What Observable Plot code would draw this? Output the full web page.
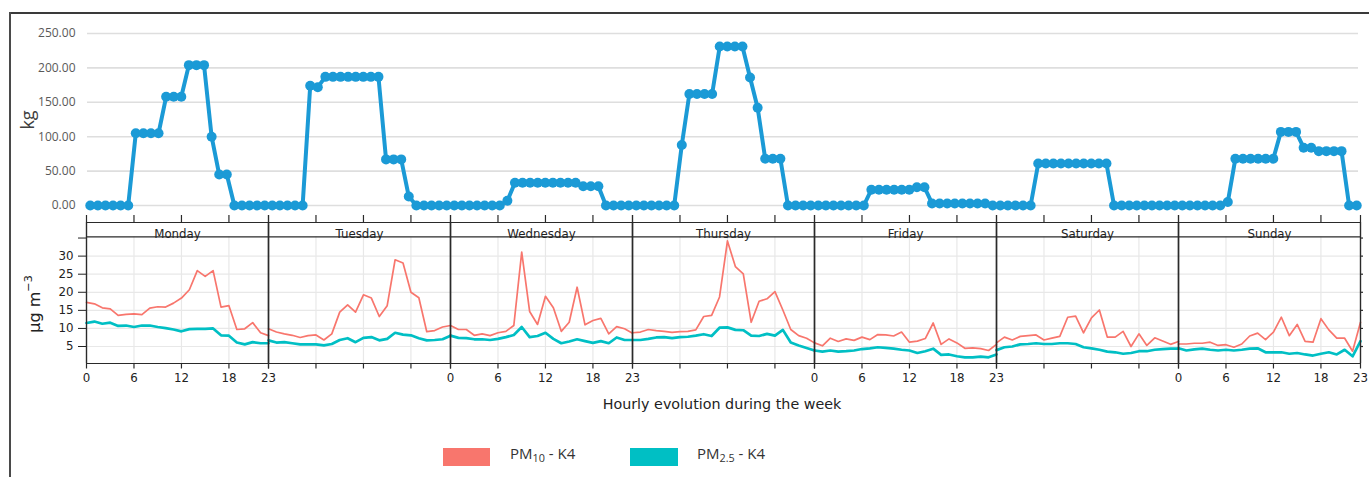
<!DOCTYPE html>
<html>
<head>
<meta charset="utf-8">
<script src="https://cdn.jsdelivr.net/npm/d3@7"></script>
<script src="https://cdn.jsdelivr.net/npm/@observablehq/plot@0.6"></script>
<style>
  body { margin: 0; background: #fff; }
  #wrap { position: relative; width: 1369px; height: 477px; background: #fff; overflow: hidden; }
  .abs { position: absolute; white-space: nowrap; }
  .rot { transform: translate(-50%, -50%) rotate(-90deg); }
  #wrap svg { position: absolute; left: 0; }
</style>
</head>
<body>
<div id="wrap"></div>
<script>
// ---------------- data ----------------
const days = ["Monday", "Tuesday", "Wednesday", "Thursday", "Friday", "Saturday", "Sunday"];
const hourTicks = [0, 6, 12, 18, 23];
const hourGrid = [6, 12, 18];
const labelledDays = ["Monday", "Wednesday", "Friday", "Sunday"];
const kgTicks = [0, 50, 100, 150, 200, 250];
const pmTicks = [5, 10, 15, 20, 25, 30, 35];
const pmTickLabels = ["5", "10", "15", "20", "25", "30", ""];
const pmGrid = [5, 10, 15, 20, 25, 30];

// kg per hour over the week (Mon 0h ... Sun 23h)
const kg = [
  0,0,0,0,0,0,105,105,105,105,158,158,158,204,204,204,100,45,45,0,0,0,0,0,
  0,0,0,0,0,174,172,187,187,187,187,187,187,187,187,67,67,67,13,0,0,0,0,0,
  0,0,0,0,0,0,0,7,33,33,33,33,33,33,33,33,33,28,28,28,0,0,0,0,
  0,0,0,0,0,0,88,162,162,162,162,231,231,231,231,186,142,68,68,68,0,0,0,0,
  0,0,0,0,0,0,0,23,23,23,23,23,23,26.5,26.5,3,3,3,3,3,3,3,3,0,
  0,0,0,0,0,61,61,61,61,61,61,61,61,61,61,0,0,0,0,0,0,0,0,0,
  0,0,0,0,0,0,5,68,68,68,68,68,68,107,107,107,84,84,79,79,79,79,0,0
];

// PM10 - K4 (µg m-3), hourly, Mon..Sun
const pm10 = [
  17.2,16.8,15.7,15.4,13.6,13.9,14.0,13.8,15.6,16.0,15.9,17.0,18.4,20.7,26.0,24.4,26.0,15.9,16.3,9.7,9.9,11.6,8.8,8.0,
  9.9,9.0,8.5,8.1,7.5,8.0,8.2,6.8,8.5,14.5,16.5,14.5,19.3,18.4,13.3,16.3,29.0,28.1,20.0,18.5,9.1,9.4,10.4,10.8,
  10.8,9.7,9.7,8.1,8.5,8.0,8.8,9.2,10.8,31.1,14.7,11.1,18.9,15.7,9.2,11.7,21.4,11.0,12.2,12.8,8.5,10.5,9.9,8.7,
  8.8,9.0,9.7,9.4,9.2,8.9,9.1,9.2,9.6,13.3,13.6,18.7,34.2,27.1,25.1,11.7,17.5,18.2,20.2,15.1,9.7,8.0,7.3,6.0,
  6.0,5.2,7.3,6.4,7.1,6.7,7.6,6.9,8.3,8.2,7.9,9.0,6.2,6.5,7.2,11.5,5.6,7.1,6.0,4.5,4.6,4.4,3.9,5.6,
  6.0,7.6,6.8,7.8,8.0,8.2,6.8,7.3,7.8,13.1,13.4,8.8,12.9,15.1,7.6,7.6,9.2,5.0,8.5,5.3,7.4,6.5,5.6,6.4,
  5.7,5.7,5.9,5.9,6.2,5.3,5.5,4.8,5.7,7.9,8.7,6.9,9.0,13.1,8.0,11.1,6.4,6.2,12.7,9.6,7.3,7.3,3.7,11.7
];

// PM2.5 - K4 (µg m-3), hourly, Mon..Sun
const pm25 = [
  11.5,11.9,11.3,11.6,10.7,10.8,10.4,10.8,10.8,10.4,10.1,9.7,9.2,9.8,9.9,9.9,10.0,8.1,8.0,6.1,5.6,6.2,5.9,5.9,
  6.7,6.1,6.2,5.9,5.6,5.6,5.6,5.3,5.7,6.8,7.3,6.2,7.4,7.6,6.7,7.1,8.8,8.3,8.1,7.3,6.7,6.8,7.0,8.0,
  8.0,7.4,7.3,7.0,7.0,6.8,7.1,7.6,8.2,10.4,7.6,7.9,8.8,7.1,5.9,6.4,7.0,6.5,6.0,6.5,5.9,7.5,6.8,6.8,
  6.8,6.8,7.1,7.5,7.6,7.3,7.6,7.7,8.0,8.4,7.9,10.2,10.3,9.6,9.5,8.0,7.9,8.5,8.0,9.6,6.1,5.3,4.6,3.9,
  3.9,3.6,3.9,3.6,3.7,3.9,4.3,4.5,4.8,4.6,4.4,4.1,3.9,3.2,3.7,4.4,2.7,2.8,2.3,2.0,2.0,2.2,2.0,2.8,
  4.0,4.8,5.0,5.6,5.7,5.9,5.7,5.7,5.9,5.9,5.7,4.8,4.5,4.1,3.6,3.4,3.0,3.2,3.7,3.7,4.1,4.3,4.4,4.4,
  4.5,3.9,4.2,4.4,4.1,3.9,4.1,3.9,4.1,4.4,4.5,3.4,3.4,3.4,3.0,3.2,2.8,2.5,3.0,3.4,2.8,4.1,2.3,6.5
];

// ---------------- tables ----------------
const kgRows = kg.map((v, i) => ({i, kg: v}));
const pmRows = pm10.map((v, i) => ({day: days[Math.floor(i / 24)], hour: i % 24, pm10: v, pm25: pm25[i]}));
const labelRows = labelledDays.flatMap(day => hourTicks.map(hour => ({day, hour})));

const wrap = document.getElementById("wrap");
const W = 1369, ML = 86, MR = 9;
const BLUE = "#1b9ad6", RED = "#F8766D", TEAL = "#00BFC4";

// ---------------- top panel (kg) ----------------
const topPlot = Plot.plot({
  width: W, height: 212,
  marginLeft: ML, marginRight: MR, marginTop: 33, marginBottom: 7,
  style: {background: "transparent", fontFamily: "Open Sans", fontSize: "12px", color: "#595959", overflow: "visible"},
  x: {domain: [-0.5, kg.length - 0.5], axis: null},
  y: {domain: [kgTicks[0], kgTicks[kgTicks.length - 1]], ticks: kgTicks, tickFormat: d3.format(".2f"), tickSize: 0, tickPadding: 11, label: null},
  marks: [
    Plot.ruleY(kgTicks, {y: d => d, stroke: "#dedede", strokeWidth: 1.6, insetLeft: 1, insetRight: 2}),
    Plot.line(kgRows, {x: "i", y: "kg", stroke: BLUE, strokeWidth: 4}),
    Plot.dot(kgRows, {x: "i", y: "kg", r: 5, fill: BLUE, stroke: "none"})
  ]
});
topPlot.style.top = "0px";
wrap.appendChild(topPlot);

// ---------------- bottom panel (PM, faceted by day) ----------------
const yLo = 0.3, yStrip = 35.3, yHi = 39.3;
const frameTop = 22, frameH = 141;
const u = (yHi - yLo) / frameH;            // data units per pixel
const hMax = hourTicks[hourTicks.length - 1];
const ux = hMax / ((W - ML - MR) / days.length);

const botPlot = Plot.plot({
  width: W, height: 215,
  marginLeft: ML, marginRight: MR, marginTop: frameTop, marginBottom: 215 - frameTop - frameH,
  style: {background: "transparent", fontFamily: "DejaVu Sans", fontSize: "11.8px", color: "#222", overflow: "visible"},
  fx: {domain: days, padding: 0, axis: null, label: null},
  x: {domain: [0, hMax], axis: null},
  y: {domain: [yLo, yHi], ticks: pmTicks, tickFormat: d => pmTickLabels[pmTicks.indexOf(d)], tickSize: 8, tickPadding: 5, label: null},
  marks: [
    Plot.ruleY(pmGrid, {y: d => d, stroke: "#e8e8e8", strokeWidth: 1.2}),
    Plot.ruleX(hourGrid, {x: d => d, y1: yLo, y2: yStrip, stroke: "#e8e8e8", strokeWidth: 1.2}),
    Plot.line(pmRows, {fx: "day", x: "hour", y: "pm10", stroke: RED, strokeWidth: 1.7}),
    Plot.line(pmRows, {fx: "day", x: "hour", y: "pm25", stroke: TEAL, strokeWidth: 2.7}),
    Plot.ruleY([yLo, yStrip, yHi], {y: d => d, stroke: "#2a2a2a", strokeWidth: 1.2}),
    Plot.ruleX([0, hMax], {x: d => d, y1: yLo, y2: yHi, stroke: "#2a2a2a", strokeWidth: 1.4}),
    Plot.ruleX(hourTicks, {x: d => d, y1: yLo, y2: yLo - 5.5 * u, stroke: "#2a2a2a", strokeWidth: 1.2}),
    Plot.ruleX(hourTicks, {x: d => d, y1: yHi, y2: yHi + 7 * u, stroke: "#2a2a2a", strokeWidth: 1.2}),
    Plot.ruleY(pmTicks, {fx: () => days[days.length - 1], y: d => d, x1: hMax, x2: hMax + 3 * ux, stroke: "#2a2a2a", strokeWidth: 1.2}),
    Plot.text(days, {fx: d => d, text: d => d, frameAnchor: "top", dy: 7.5, fill: "#222"}),
    Plot.text(labelRows, {fx: "day", x: "hour", text: d => String(d.hour), frameAnchor: "bottom", dy: 18, fill: "#222"})
  ]
});
botPlot.style.top = "200px";
wrap.appendChild(botPlot);

// ---------------- html texts, legend, frame ----------------
function addDiv(html, css, cls) {
  const el = document.createElement("div");
  el.className = "abs " + (cls || "");
  el.innerHTML = html;
  Object.assign(el.style, css);
  wrap.appendChild(el);
  return el;
}
// frame
addDiv("", {left: "9px", top: "12px", width: "1360px", height: "2px", background: "#3a3a3a"});
addDiv("", {left: "9px", top: "12px", width: "2px", height: "465px", background: "#4a4a4a"});
// axis titles
addDiv("kg", {left: "27px", top: "120px", fontFamily: "Open Sans", fontSize: "18px", color: "#404040"}, "rot");
addDiv("µg m<sup style='font-size:0.7em;position:relative;top:-0.15em'>&minus;3</sup>", {left: "34px", top: "304px", fontFamily: "DejaVu Sans", fontSize: "16px", color: "#222", lineHeight: "1"}, "rot");
addDiv("Hourly evolution during the week", {left: "722px", top: "404px", transform: "translate(-50%,-50%)", fontFamily: "DejaVu Sans", fontSize: "14.3px", color: "#222"});
// legend
addDiv("", {left: "443px", top: "448px", width: "47px", height: "18px", background: RED});
addDiv("", {left: "630px", top: "448px", width: "48px", height: "18px", background: TEAL});
const legCss = {top: "455px", transform: "translateY(-50%)", fontFamily: "Open Sans", fontSize: "15px", color: "#333", lineHeight: "1"};
addDiv("PM<sub style='font-size:0.72em;vertical-align:-0.3em'>10</sub> - K4", Object.assign({left: "510px"}, legCss));
addDiv("PM<sub style='font-size:0.72em;vertical-align:-0.3em'>2.5</sub> - K4", Object.assign({left: "697px"}, legCss));
</script>
</body>
</html>
